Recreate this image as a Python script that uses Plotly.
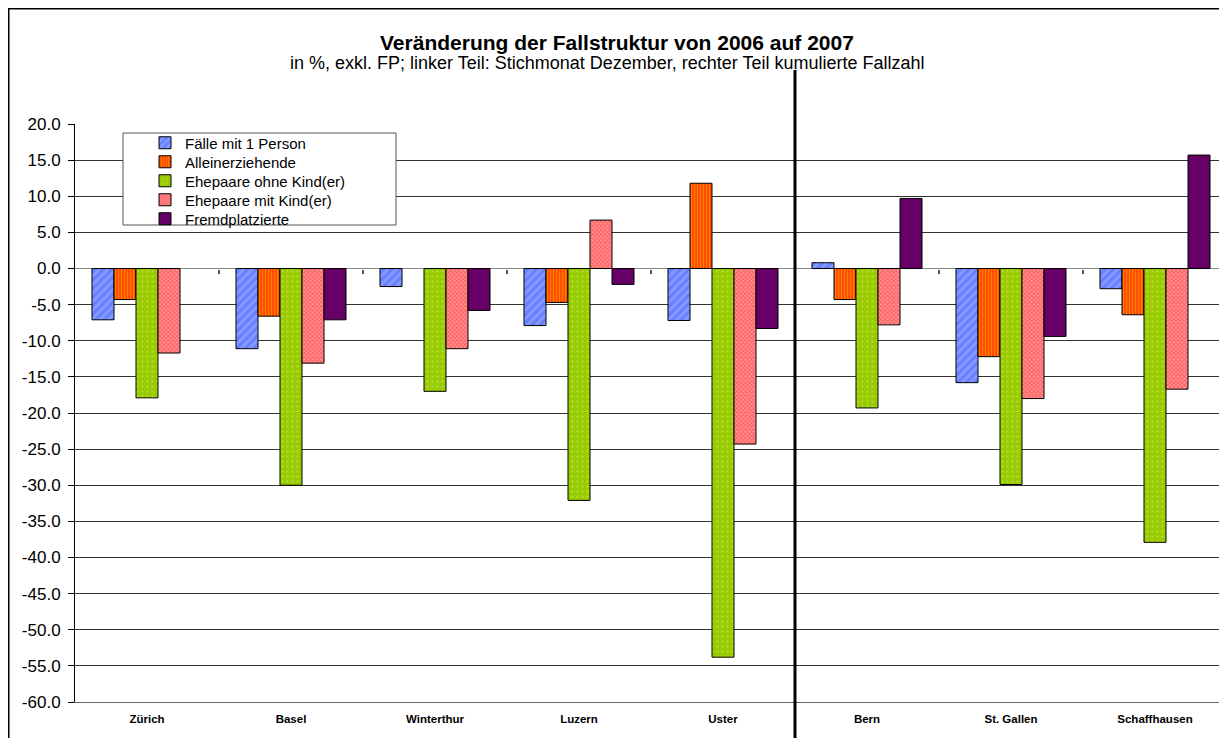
import plotly.graph_objects as go

categories = ["Zürich", "Basel", "Winterthur", "Luzern", "Uster", "Bern", "St. Gallen", "Schaffhausen"]

faelle_1_person = [-7.1, -11.1, -2.5, -7.9, -7.2, 0.8, -15.8, -2.8]
alleinerziehende = [-4.3, -6.6, None, -4.7, 11.8, -4.3, -12.2, -6.4]
ehepaare_ohne = [-17.9, -30.0, -17.0, -32.1, -53.8, -19.3, -29.9, -37.9]
ehepaare_mit = [-11.7, -13.1, -11.1, 6.7, -24.3, -7.8, -18.0, -16.7]
fremdplatzierte = [None, -7.1, -5.8, -2.2, -8.3, 9.7, -9.4, 15.7]

series_names = ["Fälle mit 1 Person", "Alleinerziehende", "Ehepaare ohne Kind(er)",
                "Ehepaare mit Kind(er)", "Fremdplatzierte"]
series_values = [faelle_1_person, alleinerziehende, ehepaare_ohne, ehepaare_mit, fremdplatzierte]

y_tick_values = [20, 15, 10, 5, 0, -5, -10, -15, -20, -25, -30, -35, -40, -45, -50, -55, -60]
y_tick_labels = [f"{v:.1f}" for v in y_tick_values]

styles = [
    dict(color="#7088ff", pattern=dict(shape="/", fgcolor="#a8b8ff", bgcolor="#6680ff", size=6, solidity=0.45)),
    dict(color="#ff7700", pattern=dict(shape="|", fgcolor="#ffd800", bgcolor="#ff2a00", size=3, solidity=0.6)),
    dict(color="#99cc00", pattern=dict(shape=".", fgcolor="#d8f08a", bgcolor="#99cc00", size=5, solidity=0.15)),
    dict(color="#f07070", pattern=dict(shape="x", fgcolor="#ff2a2a", bgcolor="#ff9a9a", size=3, solidity=0.6)),
    dict(color="#660066", pattern=None),
]

OFF = 8  # page body margin
W, H = 1227 - OFF, 738 - OFF
L, T = 75 - OFF, 124 - OFF
R = 0
B = H - (702 - OFF)
pw, ph = W - L - R, H - T - B

def px_x(p):
    return (p - OFF - L) / pw

def px_y(p):
    return (H - B - (p - OFF)) / ph

legend_item_y = [143, 162, 181, 200, 219]

fig = go.Figure()
legend_layouts = {}
for i, (name, vals, st) in enumerate(zip(series_names, series_values, styles)):
    marker = dict(color=st["color"], line=dict(color="black", width=1))
    if st["pattern"] is not None:
        marker["pattern"] = st["pattern"]
    lg = "legend" if i == 0 else f"legend{i + 1}"
    fig.add_trace(go.Bar(name=name, x=categories, y=vals, marker=marker, legend=lg))
    legend_layouts[lg] = dict(x=px_x(145), y=px_y(legend_item_y[i]), xanchor="left", yanchor="middle",
                              bgcolor="rgba(0,0,0,0)", borderwidth=0, font=dict(size=15),
                              itemwidth=30)

# invisible helper trace on an overlaid axis to draw category-boundary ticks on the zero line
boundaries = [i + 0.5 for i in range(len(categories) - 1)]
fig.add_trace(go.Scatter(x=[-0.5, 7.5], y=[0, 0], xaxis="x2", mode="lines",
                         line=dict(width=0), hoverinfo="skip", showlegend=False))

shapes = [
    dict(type="rect", xref="paper", yref="paper", x0=px_x(8.75), x1=px_x(1240), y0=px_y(760), y1=px_y(8.75),
         line=dict(color="black", width=1.5), fillcolor="rgba(0,0,0,0)", layer="above"),
    dict(type="line", xref="x", yref="paper", x0=4.5, x1=4.5, y0=px_y(760), y1=px_y(70),
         line=dict(color="black", width=3), layer="above"),
    dict(type="rect", xref="paper", yref="paper", x0=px_x(123), x1=px_x(396), y0=px_y(225), y1=px_y(133),
         line=dict(color="#555555", width=1), fillcolor="white", layer="above"),
]

annotations = [
    dict(text="<b>Veränderung der Fallstruktur von 2006 auf 2007</b>", xref="paper", yref="paper",
         x=px_x(617), y=px_y(42), showarrow=False, font=dict(size=21, color="black"),
         xanchor="center", yanchor="middle"),
    dict(text="in %, exkl. FP; linker Teil: Stichmonat Dezember, rechter Teil kumulierte Fallzahl",
         xref="paper", yref="paper", x=px_x(607), y=px_y(63), showarrow=False,
         font=dict(size=18, color="black"), xanchor="center", yanchor="middle"),
]

zero_pos = (0 - (-60)) / (20 - (-60))

fig.update_layout(
    width=W, height=H,
    margin=dict(l=L, r=R, t=T, b=B, pad=0),
    paper_bgcolor="white", plot_bgcolor="white",
    font=dict(family="Liberation Sans, Arial, sans-serif", color="black"),
    barmode="group", bargap=0.236, bargroupgap=0,
    showlegend=True,
    shapes=shapes, annotations=annotations,
    xaxis2=dict(overlaying="x", anchor="free", position=zero_pos, range=[-0.5, 7.5],
                tickvals=boundaries, ticks="outside", ticklen=4, tickcolor="#555555", tickwidth=1.5,
                showticklabels=False, showgrid=False, zeroline=False, showline=False, side="bottom"),
    **legend_layouts,
)

fig.update_yaxes(range=[-60, 20], tickvals=y_tick_values, ticktext=y_tick_labels,
                 showgrid=True, gridcolor="#333333",
                 gridwidth=1, zeroline=True, zerolinecolor="#888888", zerolinewidth=1,
                 showline=True, linecolor="black", linewidth=1, ticks="outside", ticklen=6,
                 tickcolor="black", tickfont=dict(size=17, color="black"), ticklabelstandoff=4)
fig.layout.xaxis.update(showgrid=False, showline=True, linecolor="#666666", linewidth=1, ticks="",
                        tickfont=dict(size=11.5, family="Liberation Sans Narrow, Arial Narrow, Liberation Sans", color="black"),
                        tickprefix="<b>", ticksuffix="</b>", ticklabelstandoff=6)

fig.write_html("out.html")
